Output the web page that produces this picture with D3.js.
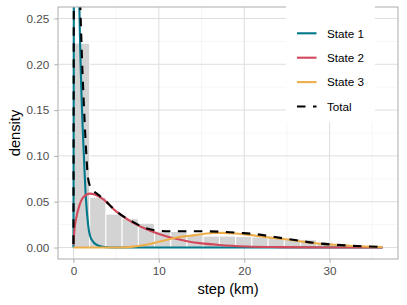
<!DOCTYPE html>
<html>
<head>
<meta charset="utf-8">
<script src="https://cdn.jsdelivr.net/npm/d3@7"></script>
<style>
  body { margin: 0; background: #fff; }
  svg { display: block; font-family: "Liberation Sans", Arial, sans-serif; }
</style>
</head>
<body>
<div id="chart"></div>
<script>
// histogram bins (km) and densities
const binEdges = [0, 1.9, 3.8, 5.7, 7.6, 9.5, 11.4, 13.3, 15.2, 17.1, 19, 20.9, 22.8, 24.7, 26.6, 28.5, 30.4, 32.3, 34.2, 36.1]
const binDensity = [0.223, 0.055, 0.0365, 0.0315, 0.0265, 0.018, 0.0175, 0.014, 0.0125, 0.0125, 0.012, 0.0115, 0.011, 0.0095, 0.0085, 0.006, 0.004, 0.0025, 0.0015]

// weighted state densities: [step, density]
const state1 = [[0, 0], [0.02, 0.12], [0.05, 0.3], [0.1, 0.5], [0.2, 0.62], [0.35, 0.56], [0.5, 0.4], [0.7, 0.26], [0.95, 0.165], [1.2, 0.105], [1.45, 0.055], [1.73, 0.024], [2.1, 0.009], [2.8, 0.0025], [3.8, 0.0003], [5, 0], [36.2, 0]]
const state2 = [[0, 0.003], [0.12, 0.02], [0.3, 0.031], [0.7, 0.046], [1.2, 0.0555], [1.9, 0.0588], [2.5, 0.0578], [3.5, 0.0525], [5, 0.0395], [7, 0.027], [8.5, 0.0202], [10.1, 0.0145], [12, 0.0095], [13.6, 0.0064], [14.8, 0.0048], [17.1, 0.0028], [20.3, 0.0012], [24, 0.0005], [30, 0.0001], [36.2, 0]]
const state3 = [[0, 0], [5, 0], [6, 0.0002], [7, 0.001], [8.5, 0.003], [10.1, 0.0065], [12.4, 0.0115], [13.6, 0.0129], [15.2, 0.0148], [16.5, 0.0158], [17.5, 0.016], [19, 0.0154], [20.6, 0.0138], [22, 0.012], [23.6, 0.0103], [25.3, 0.0085], [27, 0.0062], [28.6, 0.0045], [31.4, 0.0025], [34.1, 0.0012], [36.2, 0.0006]]
const total = [[0, 0.004], [0.02, 0.14], [0.05, 0.32], [0.1, 0.52], [0.2, 0.66], [0.35, 0.6], [0.5, 0.45], [0.7, 0.31], [0.95, 0.22], [1.2, 0.16], [1.45, 0.111], [1.66, 0.08], [1.9, 0.068], [2.2, 0.0635], [3, 0.057], [3.5, 0.053], [5, 0.0398], [7, 0.0278], [8.5, 0.021], [10.1, 0.0183], [11.5, 0.0177], [13.6, 0.0178], [15.5, 0.0177], [17.5, 0.0172], [19.5, 0.016], [21.4, 0.0146], [23.6, 0.0115], [25.9, 0.0082], [28.6, 0.0047], [31.4, 0.0026], [34.1, 0.0013], [36.2, 0.0007]]

const seriesNames = ['State 1', 'State 2', 'State 3', 'Total']
const seriesColors = ['#00798c', '#d1495b', '#edae49', '#000000']

const xTicks = [0, 10, 20, 30]
const xMinor = [5, 15, 25, 35]
const yTicks = [0, 0.05, 0.1, 0.15, 0.2, 0.25]
const yMinor = [0.025, 0.075, 0.125, 0.175, 0.225]

const width = 407, height = 305
const panel = {left: 58, right: 398, top: 7, bottom: 259}

const svg = d3.select('#chart').append('svg')
    .attr('width', width).attr('height', height)

const x = d3.scaleLinear().domain([-1.81, 38.01]).range([panel.left, panel.right])
const y = d3.scaleLinear().domain([-0.0125, 0.2625]).range([panel.bottom, panel.top])

svg.append('clipPath').attr('id', 'panel-clip')
    .append('rect')
    .attr('x', panel.left).attr('y', panel.top)
    .attr('width', panel.right - panel.left).attr('height', panel.bottom - panel.top)

// --- grid
const grid = svg.append('g')
grid.selectAll('line.xminor').data(xMinor).join('line')
    .attr('x1', d => x(d)).attr('x2', d => x(d))
    .attr('y1', panel.top).attr('y2', panel.bottom)
    .attr('stroke', '#ededed').attr('stroke-width', 0.5)
grid.selectAll('line.yminor').data(yMinor).join('line')
    .attr('y1', d => y(d)).attr('y2', d => y(d))
    .attr('x1', panel.left).attr('x2', panel.right)
    .attr('stroke', '#ededed').attr('stroke-width', 0.5)
grid.selectAll('line.xmajor').data(xTicks).join('line')
    .attr('x1', d => x(d)).attr('x2', d => x(d))
    .attr('y1', panel.top).attr('y2', panel.bottom)
    .attr('stroke', '#dedede').attr('stroke-width', 1)
grid.selectAll('line.ymajor').data(yTicks).join('line')
    .attr('y1', d => y(d)).attr('y2', d => y(d))
    .attr('x1', panel.left).attr('x2', panel.right)
    .attr('stroke', '#dedede').attr('stroke-width', 1)

const plot = svg.append('g').attr('clip-path', 'url(#panel-clip)')

// --- histogram
plot.selectAll('rect.bar').data(binDensity).join('rect')
    .attr('class', 'bar')
    .attr('x', (d, i) => x(binEdges[i]))
    .attr('width', (d, i) => x(binEdges[i + 1]) - x(binEdges[i]))
    .attr('y', d => y(d))
    .attr('height', d => y(0) - y(d))
    .attr('fill', '#d3d3d3')
    .attr('stroke', '#fff').attr('stroke-width', 1)

// --- curves
const line = d3.line()
    .x(d => x(d[0])).y(d => y(d[1]))
    .curve(d3.curveMonotoneX)

const curves = [state1, state2, state3, total]
curves.forEach((data, i) => {
    plot.append('path')
        .datum(data)
        .attr('d', line)
        .attr('fill', 'none')
        .attr('stroke', seriesColors[i])
        .attr('stroke-width', 2.1)
        .attr('stroke-dasharray', i === 3 ? '8.5,7.5' : null)
})

// --- panel border
svg.append('rect')
    .attr('x', panel.left).attr('y', panel.top)
    .attr('width', panel.right - panel.left).attr('height', panel.bottom - panel.top)
    .attr('fill', 'none').attr('stroke', '#b3b3b3').attr('stroke-width', 1.1)

// --- axes
const xAxis = svg.append('g')
    .attr('transform', `translate(0,${panel.bottom})`)
    .call(d3.axisBottom(x).tickValues(xTicks).tickSize(3.7).tickPadding(4).tickFormat(d3.format('d')))
const yAxis = svg.append('g')
    .attr('transform', `translate(${panel.left},0)`)
    .call(d3.axisLeft(y).tickValues(yTicks).tickSize(3.7).tickPadding(5).tickFormat(d3.format('.2f')))

;[xAxis, yAxis].forEach(a => {
    a.select('.domain').remove()
    a.selectAll('.tick line').attr('stroke', '#b3b3b3').attr('stroke-width', 1.1)
    a.selectAll('.tick text').attr('fill', '#4d4d4d')
        .style('font-size', '11.7px').style('font-family', '"Liberation Sans", Arial, sans-serif')
})

svg.append('text')
    .attr('x', (panel.left + panel.right) / 2).attr('y', 294)
    .attr('text-anchor', 'middle')
    .style('font-size', '14.7px')
    .text('step (km)')

svg.append('text')
    .attr('transform', `translate(20,${(panel.top + panel.bottom) / 2}) rotate(-90)`)
    .attr('text-anchor', 'middle')
    .style('font-size', '14.7px')
    .text('density')

// --- legend
const legend = svg.append('g')
legend.append('rect')
    .attr('x', 286).attr('y', 0).attr('width', 89).attr('height', 122)
    .attr('fill', '#fff')

const items = legend.selectAll('g.item').data(seriesNames).join('g')
    .attr('transform', (d, i) => `translate(297,${33.3 + i * 24.4})`)
items.append('line')
    .attr('x1', 0).attr('x2', 19.5).attr('y1', 0).attr('y2', 0)
    .attr('stroke', (d, i) => seriesColors[i])
    .attr('stroke-width', 2.1)
    .attr('stroke-dasharray', (d, i) => i === 3 ? '8.5,7.5' : null)
items.append('text')
    .attr('x', 30).attr('y', 4.2)
    .style('font-size', '11.7px')
    .text(d => d)
</script>
</body>
</html>
